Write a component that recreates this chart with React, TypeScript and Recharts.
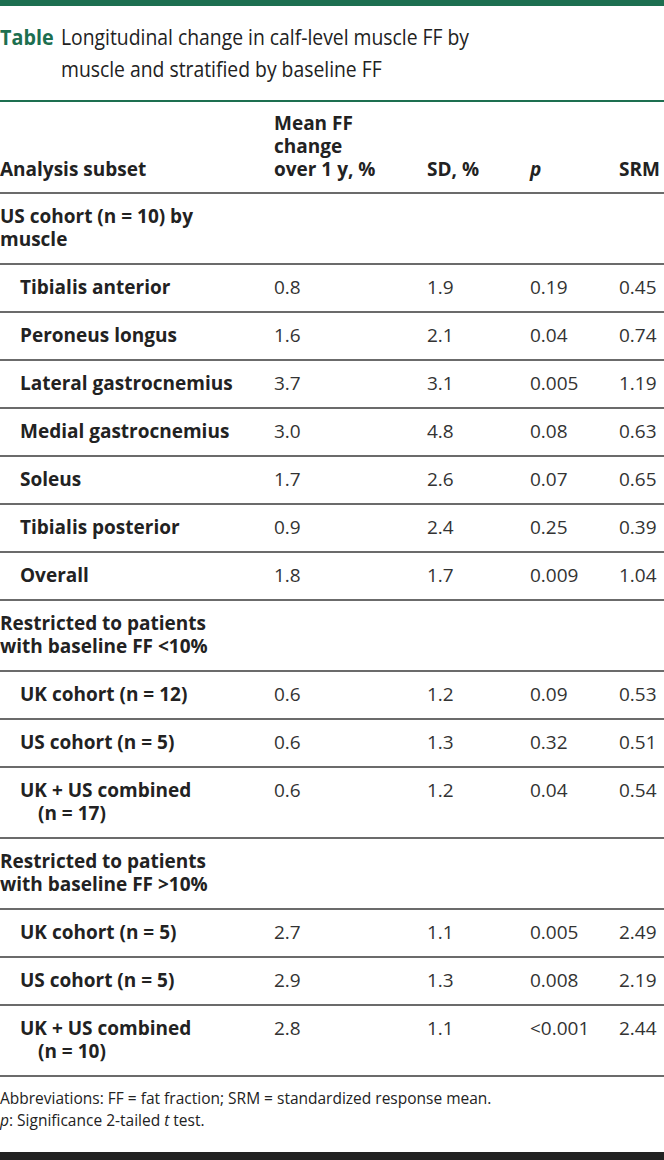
import { ComposedChart, XAxis, YAxis, Customized } from 'recharts';

// Table: longitudinal change in calf-level muscle FF
const titleLines = ['Longitudinal change in calf-level muscle FF by', 'muscle and stratified by baseline FF'];
const headerMean = ['Mean FF', 'change', 'over 1 y, %'];

const sectionTitles = [
  ['US cohort (n = 10) by', 'muscle'],
  ['Restricted to patients', 'with baseline FF <10%'],
  ['Restricted to patients', 'with baseline FF >10%'],
];

const subsetLabels = [
  ['Tibialis anterior'],
  ['Peroneus longus'],
  ['Lateral gastrocnemius'],
  ['Medial gastrocnemius'],
  ['Soleus'],
  ['Tibialis posterior'],
  ['Overall'],
  ['UK cohort (n = 12)'],
  ['US cohort (n = 5)'],
  ['UK + US combined', '(n = 17)'],
  ['UK cohort (n = 5)'],
  ['US cohort (n = 5)'],
  ['UK + US combined', '(n = 10)'],
];
const subsetSection = [0, 0, 0, 0, 0, 0, 0, 1, 1, 1, 2, 2, 2];
const meanChange = [0.8, 1.6, 3.7, 3.0, 1.7, 0.9, 1.8, 0.6, 0.6, 0.6, 2.7, 2.9, 2.8];
const sdValues = [1.9, 2.1, 3.1, 4.8, 2.6, 2.4, 1.7, 1.2, 1.3, 1.2, 1.1, 1.3, 1.1];
const pValues = ['0.19', '0.04', '0.005', '0.08', '0.07', '0.25', '0.009', '0.09', '0.32', '0.04', '0.005', '0.008', '<0.001'];
const srmValues = [0.45, 0.74, 1.19, 0.63, 0.65, 0.39, 1.04, 0.53, 0.51, 0.54, 2.49, 2.19, 2.44];

const GREEN = '#1d6f50';
const TEXT = '#222';
const RULE = '#3a3a3a';
const FONT = '"Open Sans", "Noto Sans", sans-serif';

type Row =
  | { kind: 'section'; lines: string[] }
  | { kind: 'item'; lines: string[]; mean: number; sd: number; p: string; srm: number };

const tableRows: Row[] = [];
subsetLabels.forEach((lines, i) => {
  if (i === 0 || subsetSection[i] !== subsetSection[i - 1]) {
    tableRows.push({ kind: 'section', lines: sectionTitles[subsetSection[i]] });
  }
  tableRows.push({ kind: 'item', lines, mean: meanChange[i], sd: sdValues[i], p: pValues[i], srm: srmValues[i] });
});

const W = 664;
const H = 1160;
const COL = { label: 0, indent: 20, wrap: 38, mean: 274, sd: 427, p: 530, srm: 619 };
const LINE_H = 23;
const PAD = 25;
const rowHeight = (n: number) => PAD + LINE_H * n;

// one <text> per cell, extra lines as tspans
function MultiLine({ x, y, lines, xs, ...rest }: any) {
  return (
    <text x={x} y={y} {...rest}>
      {lines.map((t: string, j: number) => (
        <tspan key={j} x={xs ? xs[j] : x} y={y + j * LINE_H}>{t}</tspan>
      ))}
    </text>
  );
}

function TableLayer() {
  const headerTop = 101;
  const headerH = rowHeight(3) - 2;
  let y = headerTop + headerH;
  const body: any[] = [];

  tableRows.forEach((row, i) => {
    const h = rowHeight(row.lines.length);
    const base = y + 30;
    body.push(<line key={`l${i}`} x1={0} x2={W} y1={y} y2={y} stroke={RULE} strokeWidth={1.3} />);
    const xs = row.lines.map((_, j) => (row.kind === 'section' ? COL.label : j === 0 ? COL.indent : COL.wrap));
    body.push(
      <MultiLine key={`t${i}`} x={xs[0]} xs={xs} y={base} lines={row.lines} fontWeight={700} fill={TEXT} />
    );
    if (row.kind === 'item') {
      body.push(
        <g key={`v${i}`} fill="#333">
          <text x={COL.mean} y={base}>{row.mean.toFixed(1)}</text>
          <text x={COL.sd} y={base}>{row.sd.toFixed(1)}</text>
          <text x={COL.p} y={base}>{row.p}</text>
          <text x={COL.srm} y={base}>{row.srm.toFixed(2)}</text>
        </g>
      );
    }
    y += h;
  });

  const footTop = y;
  const hb = headerTop + 29;

  return (
    <g fontFamily={FONT} fontSize={19}>
      <rect x={0} y={0} width={W} height={6} fill={GREEN} />
      <text transform="translate(0,45) scale(0.92,1)" x={0} y={0} fontSize={21.5} fontWeight={700} fill={GREEN}>Table</text>
      <text transform="translate(61,45) scale(0.9,1)" fontSize={21.5} fill={TEXT}>
        {titleLines.map((t, i) => (
          <tspan key={t} x={0} y={i * 32}>{t}</tspan>
        ))}
      </text>
      <line x1={0} x2={W} y1={headerTop} y2={headerTop} stroke={GREEN} strokeWidth={2} />

      <MultiLine x={COL.mean} y={hb} lines={headerMean} fontWeight={700} fill={TEXT} />
      <g fontWeight={700} fill={TEXT}>
        <text x={COL.label} y={hb + 2 * LINE_H}>Analysis subset</text>
        <text x={COL.sd} y={hb + 2 * LINE_H}>SD, %</text>
        <text x={COL.p} y={hb + 2 * LINE_H} fontStyle="italic">p</text>
        <text x={COL.srm} y={hb + 2 * LINE_H}>SRM</text>
      </g>

      {body}

      <line x1={0} x2={W} y1={footTop} y2={footTop} stroke={RULE} strokeWidth={1.3} />
      <text x={0} y={footTop + 28} fontSize={15.5} fill={TEXT}>
        <tspan x={0} y={footTop + 28}>Abbreviations: FF = fat fraction; SRM = standardized response mean.</tspan>
        <tspan x={0} y={footTop + 50} fontStyle="italic">p</tspan>
        <tspan>: Significance 2-tailed </tspan>
        <tspan fontStyle="italic">t</tspan>
        <tspan> test.</tspan>
      </text>
      <rect x={0} y={H - 8} width={W} height={8} fill="#222" />
    </g>
  );
}

export default function App() {
  return (
    <div style={{ width: W, height: H, background: '#fff' }}>
      <style>{'body{margin:0}'}</style>
      <ComposedChart width={W} height={H} data={tableRows} margin={{ top: 0, right: 0, bottom: 0, left: 0 }}>
        <XAxis hide />
        <YAxis hide />
        <Customized component={<TableLayer />} />
      </ComposedChart>
    </div>
  );
}
